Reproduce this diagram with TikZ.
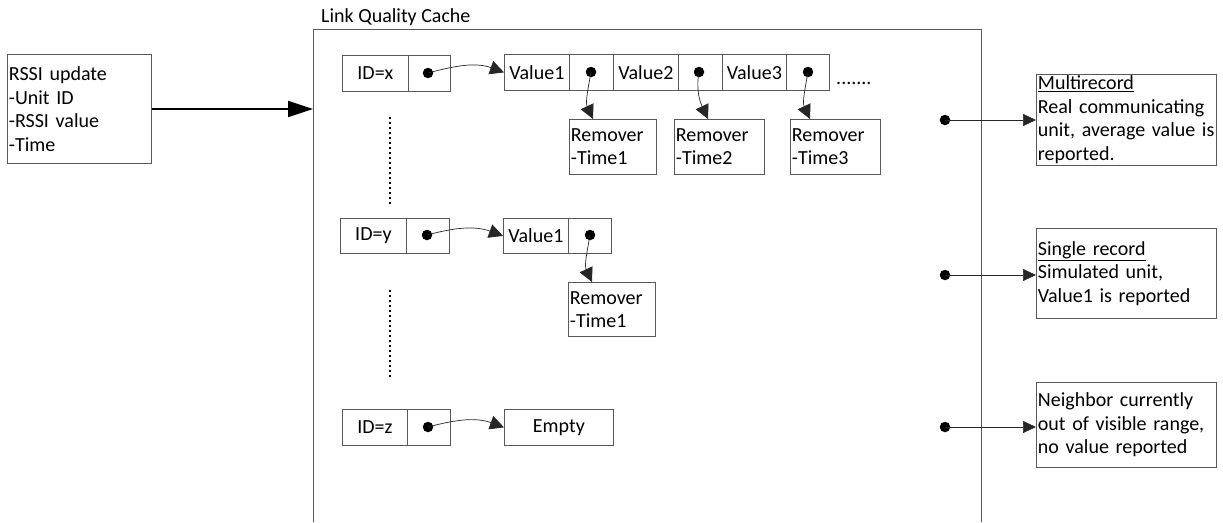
\documentclass[tikz,border=0pt]{standalone}
\usepackage{fontspec}
\setmainfont{Carlito}
\usetikzlibrary{arrows.meta,calc}
\begin{document}
\begin{tikzpicture}[x=1pt,y=-1pt,
  every node/.style={font=\fontsize{20}{23.5}\selectfont},
  box/.style={draw=black!65,line width=0.8pt,inner sep=0pt,anchor=north west},
  cell/.style={box,minimum height=36pt},
  txtbox/.style={box,align=left,inner xsep=1.5pt},
  dotn/.style={circle,fill=black,minimum size=10.5pt,inner sep=0pt},
  conn/.style={draw=black!85,line width=0.7pt,-{Triangle[length=14pt,width=14pt]}},
  hconn/.style={draw=black!85,line width=0.7pt,-{Triangle[length=13pt,width=12pt]}},
  dotline/.style={line width=2pt,dash pattern=on 1.8pt off 3.2pt}
]
\useasboundingbox (0,0) rectangle (1223,522);

% input box
\node[txtbox,text width=141pt,minimum height=109pt] (rssi) at (7,54) {RSSI update\\-Unit ID\\-RSSI value\\-Time};

% cache
\node[anchor=base west,inner sep=0pt] (title) at (321,23) {Link Quality Cache};
\draw[black!65,line width=0.8pt] (313,522) -- (313,29) -- (981,29) -- (981,522);
\coordinate (cacheL) at (313,109);
\draw[line width=2pt,-{Triangle[length=25pt,width=16pt]}] (rssi.east |- cacheL) -- (cacheL);

% row x
\node[cell,minimum width=66pt] (idx) at (342,55) {ID=x};
\node[cell,minimum width=42pt] (px) at (408,55) {};
\node[dotn] (dx) at (428,73) {};
\node[cell,minimum width=65pt] (v1) at (504,54) {Value1};
\node[cell,minimum width=44pt] (p1) at (569,54) {};
\node[cell,minimum width=65pt] (v2) at (613,54) {Value2};
\node[cell,minimum width=44pt] (p2) at (678,54) {};
\node[cell,minimum width=64pt] (v3) at (722,54) {Value3};
\node[cell,minimum width=43pt] (p3) at (786,54) {};
\node[dotn] (d1) at (591,72) {};
\node[dotn] (d2) at (699,72) {};
\node[dotn] (d3) at (808,72) {};
\node[anchor=base west,inner sep=0pt] (more) at (836,84) {.......};
\node[txtbox,text width=84pt,minimum height=55pt] (r1) at (569,119) {Remover\\-Time1};
\node[txtbox,text width=87pt,minimum height=55pt] (r2) at (674,119) {Remover\\-Time2};
\node[txtbox,text width=87pt,minimum height=55pt] (r3) at (790,119) {Remover\\-Time3};
\draw[conn] (dx.center) to[out=15,in=160] (v1.west);
\draw[conn] (d1.center) to[out=-100,in=115] ($(r1.north west)+(24,0)$);
\draw[conn] (d2.center) to[out=-100,in=115] ($(r2.north west)+(34,0)$);
\draw[conn] (d3.center) to[out=-100,in=115] ($(r3.north west)+(20,0)$);

% dots
\draw[dotline] (390,117) -- (390,205);

% row y
\node[cell,minimum width=66pt,minimum height=35pt] (idy) at (340,218) {ID=y};
\node[cell,minimum width=43pt,minimum height=35pt] (py) at (406,218) {};
\node[dotn] (dy) at (427,235) {};
\node[cell,minimum width=65pt,minimum height=35pt] (w1) at (503,218) {Value1};
\node[cell,minimum width=43pt,minimum height=35pt] (q1) at (568,218) {};
\node[dotn] (e1) at (590,235) {};
\node[txtbox,text width=84pt,minimum height=54pt] (s1) at (568,282) {Remover\\-Time1};
\draw[conn] (dy.center) to[out=15,in=160] (w1.west);
\draw[conn] (e1.center) to[out=-100,in=115] ($(s1.north west)+(24,0)$);

\draw[dotline] (390,290) -- (390,378);

% row z
\node[cell,minimum width=65pt] (idz) at (342,409) {ID=z};
\node[cell,minimum width=43pt] (pz) at (407,409) {};
\node[dotn] (dz) at (428,427) {};
\node[cell,minimum width=109pt] (empty) at (504,409) {Empty};
\draw[conn] (dz.center) to[out=15,in=160] (empty.west);

% right side
\node[txtbox,text width=177pt,minimum height=91pt] (mr) at (1036,74) {\underline{Multirecord}\\Real communicating\\unit, average value is\\reported.};
\node[txtbox,text width=177pt,minimum height=90pt] (sr) at (1036,228) {\underline{Single record}\\Simulated unit,\\Value1 is reported};
\node[txtbox,text width=177pt,minimum height=85pt] (nb) at (1036,382) {Neighbor currently\\out of visible range,\\no value reported};
\node[dotn] (f1) at (945,120) {};
\node[dotn] (f2) at (945,275) {};
\node[dotn] (f3) at (945,427) {};
\draw[hconn] (f1.center) -- (mr.west |- f1);
\draw[hconn] (f2.center) -- (sr.west |- f2);
\draw[hconn] (f3.center) -- (nb.west |- f3);
\end{tikzpicture}
\end{document}
